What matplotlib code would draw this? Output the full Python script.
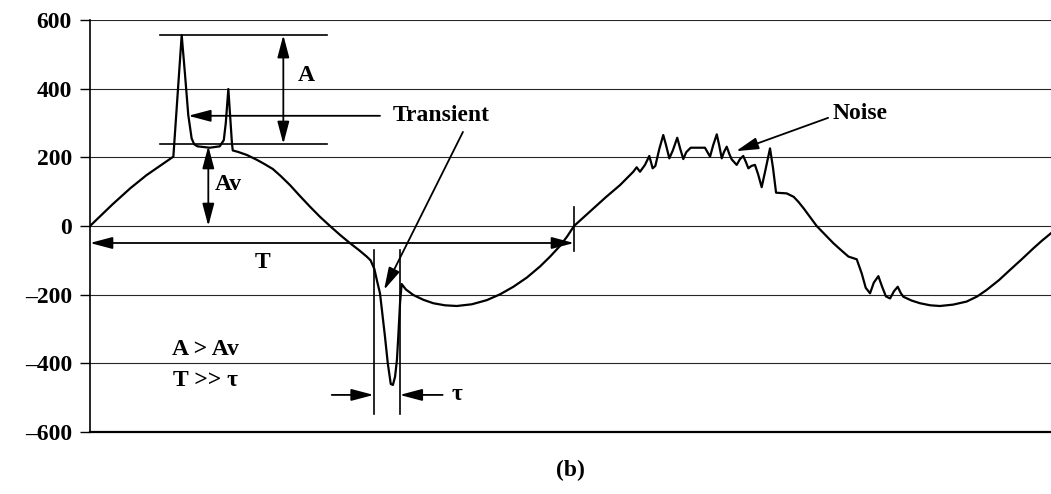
#!/usr/bin/env python3

import matplotlib
matplotlib.use('Agg')
import matplotlib.pyplot as plt

# waveform: phase angle (deg) against amplitude
wave_deg = [0, 17, 30, 42, 62, 68.2, 70.7, 73.1, 75.6, 77.5, 80, 89, 96.5, 99.5,
            101, 102.9, 104.6, 105.6, 106.2, 110, 116.6, 124, 130, 136, 142,
            148.8, 156, 163.7, 171, 178.5, 186, 193.4, 200, 205.8, 208.7, 211.5,
            213.5, 215.7, 219.4, 221.5, 223.7, 225.3, 226.9, 228.3, 229.3, 230.6,
            231.8, 235, 240.5, 248, 255.4, 264, 272.8, 284, 295.1, 305, 314.9,
            325, 334.7, 342, 349.6, 355, 360, 367, 374.4, 384, 394.2, 399,
            404.1, 406.6, 409.1, 412.8, 416, 418.5, 420.5, 423.5, 426.4, 428.5,
            430.9, 433.5, 436.8, 439, 441.3, 443.5, 446.8, 457.4, 461.2, 463.5,
            466.2, 468, 469.9, 471.5, 473.6, 475.5, 477.3, 481, 483.5, 485.9, 488,
            489.7, 492, 494.6, 497, 499.6, 502.5, 505.8, 508, 510.3, 518.2, 523.4,
            527, 530.9, 536, 540.5, 546, 552.9, 558, 564.1, 570.3, 574, 577,
            580.2, 583, 586.4, 589, 592, 595.1, 598, 600.8, 603, 605, 611, 617.4,
            625, 632.2, 642, 652.1, 660, 667, 676, 684.3, 693, 701.7, 708, 714.8]
wave_val = [0, 64, 110, 148, 202, 556, 440, 323, 255, 238, 232, 228, 232, 250,
            300, 399, 300, 240, 220, 216, 207, 193, 180, 166, 145,
            119, 88, 56, 27, 0, -26, -50, -70, -89, -100, -125,
            -160, -196, -322, -400, -460, -463, -439, -390, -322, -225,
            -169, -185, -201, -215, -225, -231, -233, -228, -216, -199, -177,
            -150, -118, -90, -58, -30, 0, 25, 51, 85, 119, 138,
            158, 171, 158, 178, 204, 168, 175, 225, 265, 235,
            197, 220, 257, 225, 195, 215, 228, 228, 202, 235,
            267, 235, 197, 215, 231, 210, 194, 178, 195, 204, 185,
            168, 175, 178, 150, 113, 165, 226, 170, 97, 95, 85,
            70, 51, 24, 0, -22, -50, -68, -89, -97, -138, -180,
            -196, -165, -146, -175, -205, -211, -190, -177, -195, -206, -217, -225,
            -231, -233, -229, -220, -205, -186, -158, -128, -97, -65, -43, -21]

yticks = [-600, -400, -200, 0, 200, 400, 600]
ytick_labels = ['\u2013600', '\u2013400', '\u2013200', '0', '200', '400', '600']

A_top, A_base = 556, 239      # transient peak and level it rides on
Av = 233
T_level = -49.5
tau_start, tau_end = 211.0, 230.4

plt.rcParams['font.family'] = ['Liberation Serif', 'DejaVu Serif']
plt.rcParams['font.weight'] = 'bold'
FS = 17

fig = plt.figure(figsize=(10.51, 4.94), dpi=100)
ax = fig.add_axes([90 / 1051, 62 / 494, 961 / 1051, 412 / 494])

ax.plot(wave_deg, wave_val, color='black', lw=1.6, solid_joinstyle='round')

ax.set_xlim(0, 714.8)
ax.set_ylim(-600, 600)
ax.set_xticks([])
ax.set_yticks(yticks)
ax.set_yticklabels(ytick_labels, fontsize=FS, fontweight='bold')
ax.tick_params(axis='y', direction='out', length=7, width=1, pad=6)
ax.yaxis.grid(True, color='0.15', lw=0.8)
ax.set_axisbelow(True)
for side in ['top', 'right']:
    ax.spines[side].set_visible(False)
ax.spines['left'].set_linewidth(1.2)
ax.spines['bottom'].set_linewidth(1.6)

head = '-|>,head_length=0.68,head_width=0.18'
dhead = '<|-|>,head_length=0.68,head_width=0.18'


def arrow(tail, tip, style=head):
    ax.annotate('', xy=tip, xytext=tail,
                arrowprops=dict(arrowstyle=style, color='black', lw=1.3,
                                mutation_scale=20, shrinkA=0, shrinkB=0))


# A: height of the transient above its base
ax.plot([52.1, 176.1], [A_top, A_top], color='black', lw=1.2)
ax.plot([52.1, 176.1], [A_base, A_base], color='black', lw=1.2)
arrow((143.8, A_top), (143.8, A_base), dhead)
ax.text(160.7, 437, 'A', fontsize=FS, ha='center', va='center')

# Av: base level
arrow((88.0, 0), (88.0, Av), dhead)
ax.text(93, 122, 'Av', fontsize=FS, ha='left', va='center')

# transient labels
arrow((215.7, 321), (73.1, 321))
ax.text(225.4, 321, 'Transient', fontsize=FS, ha='left', va='center')
arrow((277.4, 274), (218.7, -186))

# period T
arrow((0, T_level), (360, T_level), dhead)
ax.plot([360, 360], [55, -73], color='black', lw=1.2)
ax.text(128.7, -105, 'T', fontsize=FS, ha='center', va='center')

# transient width tau
for xv in [tau_start, tau_end]:
    ax.plot([xv, xv], [-70, -549], color='black', lw=1.2)
arrow((179.8, -492), (tau_start, -492))
arrow((262.3, -492), (tau_end, -492))
ax.text(269, -492, '\u03c4', fontsize=FS, ha='left', va='center')

ax.text(61, -361, 'A > Av', fontsize=FS, ha='left', va='center')
ax.text(61.7, -451, 'T >> \u03c4', fontsize=FS, ha='left', va='center')

# noise label
arrow((549, 315), (480.5, 218))
ax.text(552.7, 329, 'Noise', fontsize=FS, ha='left', va='center')

fig.text(570 / 1051, 1 - 470 / 494, '(b)', fontsize=FS, ha='center', va='center')

fig.savefig('out.png', dpi=100, facecolor='white')
